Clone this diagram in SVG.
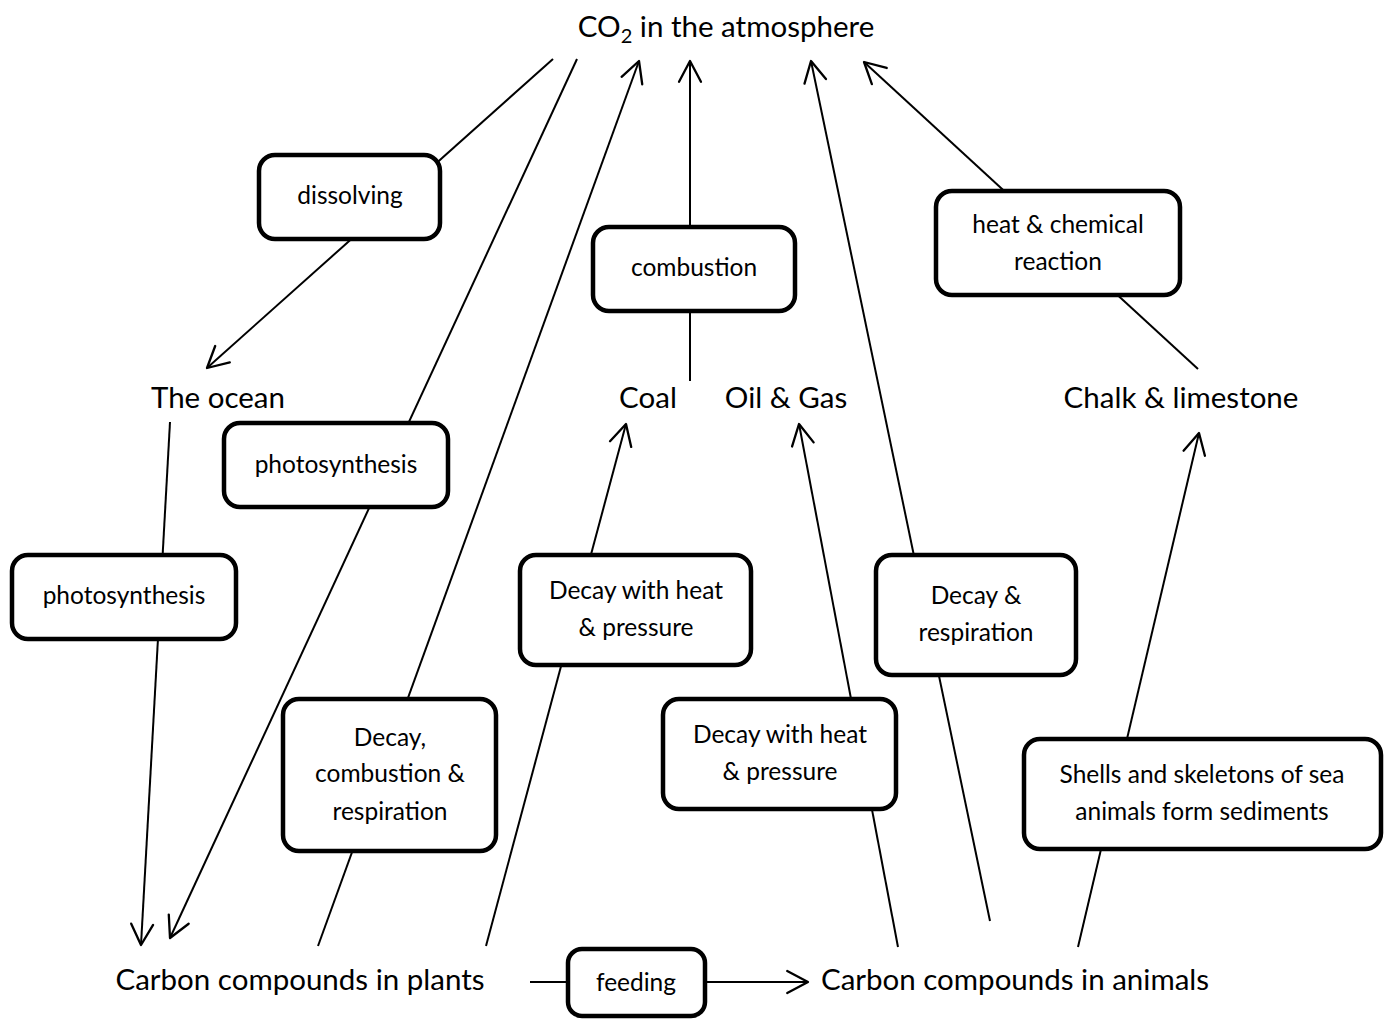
<svg xmlns="http://www.w3.org/2000/svg" width="1388" height="1019" viewBox="0 0 1388 1019">
<style>
  .bg { fill: #ffffff; }
  .box { fill: #ffffff; stroke: #000000; stroke-width: 4.5; }
  .edge { fill: none; stroke: #000000; stroke-width: 2; marker-end: url(#arrow); }
  .lbl { font-family: Lato, "Open Sans", "Liberation Sans", sans-serif; font-size: 24.5px; fill: #000; text-anchor: middle; }
  .main { font-family: Lato, "Open Sans", "Liberation Sans", sans-serif; font-size: 29.5px; fill: #000; text-anchor: middle; }
</style>
<defs>
  <marker id="arrow" markerUnits="userSpaceOnUse" markerWidth="30" markerHeight="30" viewBox="-22 -12 26 24" refX="0" refY="0" orient="auto">
    <path d="M -18 -9.5 L 0 0 L -18 9.5" fill="none" stroke="#000" stroke-width="2" stroke-linejoin="round" stroke-linecap="round"/>
  </marker>
</defs>
<rect class="bg" x="0" y="0" width="1388" height="1019"/>

<g id="connectors">
  <line class="edge" x1="553" y1="59" x2="207" y2="368"/>
  <line class="edge" x1="577" y1="59" x2="170" y2="938"/>
  <line class="edge" x1="170" y1="422" x2="141" y2="945"/>
  <line class="edge" x1="318" y1="946" x2="639" y2="61"/>
  <line class="edge" x1="690" y1="381" x2="690" y2="61"/>
  <line class="edge" x1="486" y1="946" x2="626" y2="424"/>
  <line class="edge" x1="898" y1="947" x2="799" y2="424"/>
  <line class="edge" x1="990" y1="921" x2="811" y2="61"/>
  <line class="edge" x1="1078" y1="947" x2="1199" y2="433"/>
  <line class="edge" x1="1198" y1="369" x2="864" y2="62"/>
  <line class="edge" x1="530" y1="982" x2="808" y2="982"/>
</g>

<g id="co2"><text class="main" x="726" y="37">CO<tspan font-size="20" dy="6">2</tspan><tspan dy="-6"> in the atmosphere</tspan></text></g>
<g id="ocean"><text class="main" x="218" y="408">The ocean</text></g>
<g id="coal"><text class="main" x="648" y="408">Coal</text></g>
<g id="oilgas"><text class="main" x="786" y="408">Oil &amp; Gas</text></g>
<g id="chalk"><text class="main" x="1181" y="408">Chalk &amp; limestone</text></g>
<g id="plants"><text class="main" x="300" y="990">Carbon compounds in plants</text></g>
<g id="animals"><text class="main" x="1015" y="990">Carbon compounds in animals</text></g>

<g id="dissolving"><rect class="box" x="259" y="155" width="181" height="84" rx="16"/><text class="lbl" x="350" y="204">dissolving</text></g>
<g id="combustion"><rect class="box" x="593" y="227" width="202" height="84" rx="16"/><text class="lbl" x="694" y="276">combustion</text></g>
<g id="heatchem"><rect class="box" x="936" y="191" width="244" height="104" rx="16"/><text class="lbl" x="1058" y="233">heat &amp; chemical</text><text class="lbl" x="1058" y="270">reaction</text></g>
<g id="photo1"><rect class="box" x="224" y="423" width="224" height="84" rx="16"/><text class="lbl" x="336" y="473">photosynthesis</text></g>
<g id="photo2"><rect class="box" x="12" y="555" width="224" height="84" rx="16"/><text class="lbl" x="124" y="604">photosynthesis</text></g>
<g id="decayheat1"><rect class="box" x="520" y="555" width="231" height="110" rx="16"/><text class="lbl" x="636" y="599">Decay with heat</text><text class="lbl" x="636" y="636">&amp; pressure</text></g>
<g id="decayresp"><rect class="box" x="876" y="555" width="200" height="120" rx="16"/><text class="lbl" x="976" y="604">Decay &amp;</text><text class="lbl" x="976" y="641">respiration</text></g>
<g id="decaycomb"><rect class="box" x="283" y="699" width="213" height="152" rx="16"/><text class="lbl" x="390" y="746">Decay,</text><text class="lbl" x="390" y="782">combustion &amp;</text><text class="lbl" x="390" y="820">respiration</text></g>
<g id="decayheat2"><rect class="box" x="663" y="699" width="233" height="110" rx="16"/><text class="lbl" x="780" y="743">Decay with heat</text><text class="lbl" x="780" y="780">&amp; pressure</text></g>
<g id="shells"><rect class="box" x="1024" y="739" width="357" height="110" rx="16"/><text class="lbl" x="1202" y="783">Shells and skeletons of sea</text><text class="lbl" x="1202" y="820">animals form sediments</text></g>
<g id="feeding"><rect class="box" x="568" y="949" width="137" height="67" rx="14"/><text class="lbl" x="636" y="991">feeding</text></g>
</svg>
